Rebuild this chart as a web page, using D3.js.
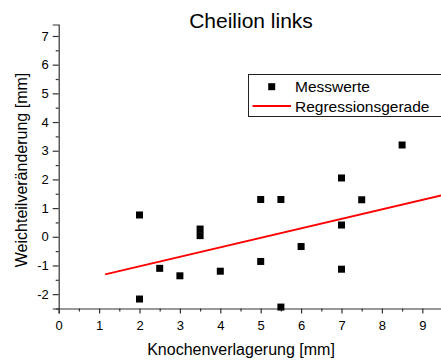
<!DOCTYPE html>
<html>
<head>
<meta charset="utf-8">
<script src="https://cdn.jsdelivr.net/npm/d3@7"></script>
<style>
  body { margin: 0; background: #fff; }
  text { font-family: Arial, "Liberation Sans", sans-serif; fill: #000; }
</style>
</head>
<body>
<svg id="chart" width="441" height="362"></svg>
<script>
var knochen = [2, 2, 2.5, 3, 3.5, 3.5, 4, 5, 5, 5.5, 5.5, 6, 7, 7, 7, 7.5, 8.5];
var weichteil = [0.76, -2.17, -1.1, -1.36, 0.27, 0.04, -1.2, 1.3, -0.86, 1.3, -2.45, -0.34, 2.05, 0.41, -1.13, 1.29, 3.2];

// Regressionsgerade endpoints
var regX = [1.15, 9.5];
var regY = [-1.31, 1.45];

var xTicks = [0, 1, 2, 3, 4, 5, 6, 7, 8, 9];
var yTicks = [-2, -1, 0, 1, 2, 3, 4, 5, 6, 7];

var svg = d3.select("#chart");

var x = d3.scaleLinear().domain([0, 9.5]).range([58.7, 442.5]);
var y = d3.scaleLinear().domain([-2.5, 7.4]).range([308.5, 24.5]);

// plain hyphen for negatives, like the original plot
var fmt = function(d){ return String(d); };

// Minor ticks at half units
function halves(lo, hi){
    var out = [];
    for (var v = lo; v <= hi; v += 1) out.push(v + 0.5);
    return out;
}

svg.append("g")
    .attr("transform", "translate(0," + y(-2.5) + ")")
    .call(d3.axisBottom(x).tickValues(xTicks).tickSize(5).tickPadding(7).tickFormat(fmt));
svg.append("g")
    .attr("transform", "translate(0," + y(-2.5) + ")")
    .call(d3.axisBottom(x).tickValues(halves(0, 8)).tickSize(3).tickFormat(""))
    .select(".domain").remove();

svg.append("g")
    .attr("transform", "translate(" + x(0) + ",0)")
    .call(d3.axisLeft(y).tickValues(yTicks).tickSize(6).tickPadding(4).tickFormat(fmt));
svg.append("g")
    .attr("transform", "translate(" + x(0) + ",0)")
    .call(d3.axisLeft(y).tickValues(halves(-3, 6)).tickSize(3).tickFormat(""))
    .select(".domain").remove();

svg.selectAll(".domain, .tick line").attr("stroke", "#333").attr("stroke-width", 1.2);
svg.selectAll(".tick text").style("font-size", "13px").attr("fill", "#000");

// Regression line
svg.append("line")
    .attr("x1", x(regX[0])).attr("y1", y(regY[0]))
    .attr("x2", x(regX[1])).attr("y2", y(regY[1]))
    .attr("stroke", "#f00")
    .attr("stroke-width", 2);

// Data squares
var sq = 7;
svg.selectAll("rect.pt")
    .data(knochen)
    .enter()
    .append("rect")
    .attr("class", "pt")
    .attr("x", function(d){ return x(d) - sq / 2; })
    .attr("y", function(d, i){ return y(weichteil[i]) - sq / 2; })
    .attr("width", sq)
    .attr("height", sq)
    .attr("fill", "#000");

// Title and axis labels
svg.append("text")
    .attr("x", 251).attr("y", 27.5)
    .attr("text-anchor", "middle")
    .style("font-size", "21px")
    .text("Cheilion links");

svg.append("text")
    .attr("x", 241).attr("y", 354.5)
    .attr("text-anchor", "middle")
    .style("font-size", "16px")
    .text("Knochenverlagerung [mm]");

svg.append("text")
    .attr("transform", "translate(27,170) rotate(-90)")
    .attr("text-anchor", "middle")
    .style("font-size", "16px")
    .text("Weichteilveränderung [mm]");

// Legend
var legend = svg.append("g");
legend.append("rect")
    .attr("x", 248.5).attr("y", 74.5)
    .attr("width", 200).attr("height", 42)
    .attr("fill", "#fff")
    .attr("stroke", "#222");
legend.append("rect")
    .attr("x", 271.7 - sq / 2).attr("y", 86.7 - sq / 2)
    .attr("width", sq).attr("height", sq)
    .attr("fill", "#000");
legend.append("line")
    .attr("x1", 252.5).attr("x2", 291)
    .attr("y1", 106).attr("y2", 106)
    .attr("stroke", "#f00").attr("stroke-width", 2);
legend.append("text")
    .attr("x", 295).attr("y", 92)
    .style("font-size", "15.5px")
    .text("Messwerte");
legend.append("text")
    .attr("x", 295).attr("y", 111.5)
    .style("font-size", "15.5px")
    .text("Regressionsgerade");
</script>
</body>
</html>
